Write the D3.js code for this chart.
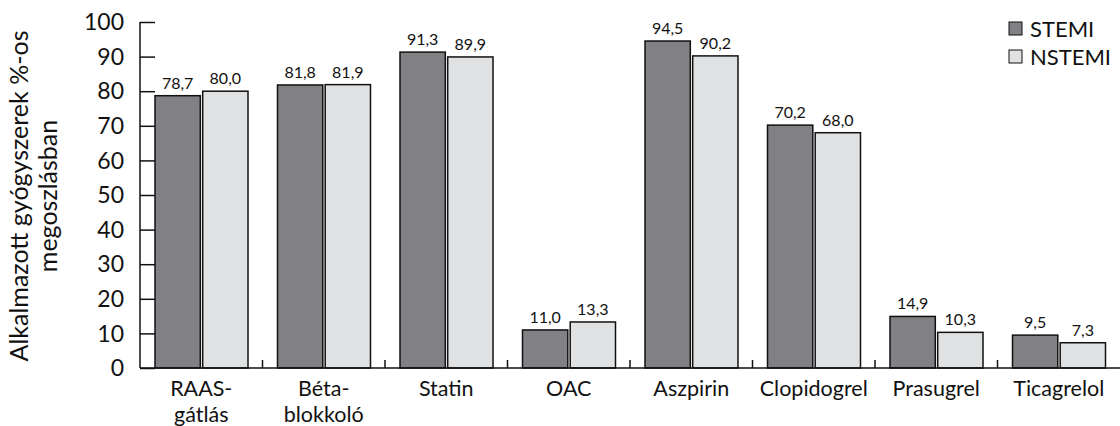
<!DOCTYPE html>
<html><head><meta charset="utf-8">
<script src="https://cdn.jsdelivr.net/npm/d3@7"></script>
<style>body{margin:0;background:#fff}svg{display:block}text{font-family:Lato,"Noto Sans",sans-serif;fill:#111}</style>
</head><body><svg id="c" width="1120" height="426"></svg>
<script>
const categories = [["RAAS-","gátlás"],["Béta-","blokkoló"],["Statin"],["OAC"],["Aszpirin"],["Clopidogrel"],["Prasugrel"],["Ticagrelol"]];
const seriesNames = ["STEMI","NSTEMI"];
const stemi = [78.7,81.8,91.3,11.0,94.5,70.2,14.9,9.5];
const nstemi = [80.0,81.9,89.9,13.3,90.2,68.0,10.3,7.3];
const yTicks = [0,10,20,30,40,50,60,70,80,90,100];
const colors = ["#808085","#e0e1e3"];

const svg = d3.select("#c");
const x0 = 140, x1 = 1120, yTop = 22, yBot = 368;
const x = d3.scaleBand().domain(d3.range(categories.length)).range([x0,x1]).paddingInner(0).paddingOuter(0);
const xs = d3.scaleBand().domain([0,1]).range([15, x.bandwidth()-14.5]).paddingInner(0.05);
const y = d3.scaleLinear().domain([0,100]).range([yBot,yTop]);
const fmt = v => v.toFixed(1).replace(".", ",");

// bars
const series = [stemi, nstemi];
series.forEach((vals,si)=>{
  svg.append("g").selectAll("rect").data(vals).join("rect")
    .attr("x",(d,i)=>x(i)+xs(si)).attr("y",d=>y(d))
    .attr("width",xs.bandwidth()).attr("height",d=>yBot-y(d))
    .attr("fill",colors[si]).attr("stroke","#111").attr("stroke-width",1.5);
  svg.append("g").selectAll("text").data(vals).join("text")
    .attr("x",(d,i)=>x(i)+xs(si)+xs.bandwidth()/2).attr("y",d=>y(d)-7)
    .attr("text-anchor","middle").attr("font-size",16).text(fmt);
});

// y axis
const ya = svg.append("g").attr("transform",`translate(${x0},0)`)
  .call(d3.axisRight(y).tickValues(yTicks).tickSize(15).tickFormat(""));
ya.select(".domain").remove();
ya.selectAll(".tick line").attr("stroke","#111").attr("stroke-width",1.5);
svg.append("line").attr("x1",x0).attr("x2",x0).attr("y1",yTop).attr("y2",yBot).attr("stroke","#111").attr("stroke-width",1.5);
svg.append("g").selectAll("text").data(yTicks).join("text")
  .attr("x",124).attr("y",d=>y(d)).attr("dy","0.36em").attr("text-anchor","end")
  .attr("font-size",23).text(d=>d);

// x axis
svg.append("line").attr("x1",x0).attr("x2",x1).attr("y1",yBot).attr("y2",yBot).attr("stroke","#111").attr("stroke-width",1.5);
svg.append("g").selectAll("line").data(d3.range(1,categories.length)).join("line")
  .attr("x1",d=>x(d)).attr("x2",d=>x(d)).attr("y1",yBot).attr("y2",yBot-8).attr("stroke","#111").attr("stroke-width",1.5);
const cl = svg.append("g").selectAll("text").data(categories).join("text")
  .attr("text-anchor","middle").attr("font-size",21.5);
cl.each(function(lines,i){
  d3.select(this).selectAll("tspan").data(lines).join("tspan")
    .attr("x",x(i)+x.bandwidth()/2).attr("y",(l,j)=>396+j*26).text(l=>l);
});

// y label
const yl = svg.append("text").attr("transform","translate(0,196) rotate(-90)").attr("text-anchor","middle").attr("font-size",25);
yl.append("tspan").attr("x",0).attr("y",28).text("Alkalmazott gyógyszerek %-os");
yl.append("tspan").attr("x",0).attr("y",57).text("megoszlásban");

// legend
seriesNames.forEach((n,i)=>{
  const ly = 22 + i*28;
  svg.append("rect").attr("x",1009).attr("y",ly).attr("width",13).attr("height",13)
    .attr("fill",colors[i]).attr("stroke","#111").attr("stroke-width",1);
  svg.append("text").attr("x",1030).attr("y",ly+7).attr("dy","0.36em").attr("font-size",22).text(n);
});
</script></body></html>
